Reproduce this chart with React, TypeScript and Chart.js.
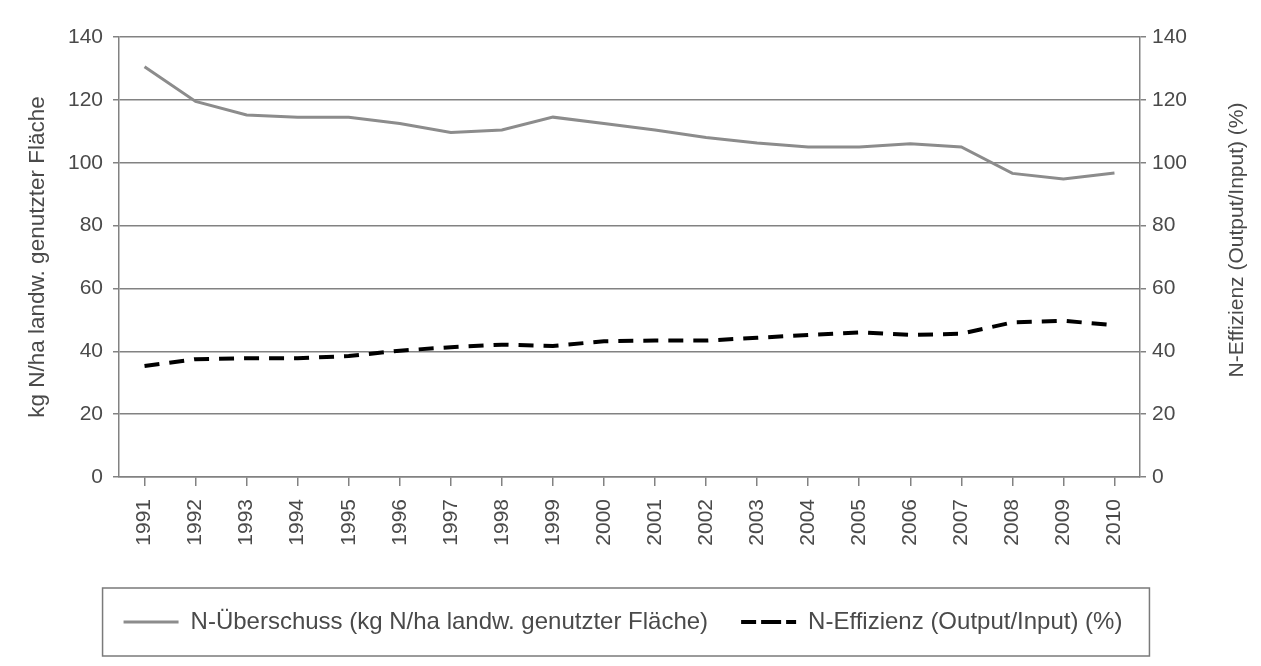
import React, { useEffect, useRef } from "react";
import { Chart, registerables } from "chart.js";

Chart.register(...registerables);

const years = ["1991","1992","1993","1994","1995","1996","1997","1998","1999","2000","2001","2002","2003","2004","2005","2006","2007","2008","2009","2010"];
const surplus = [130.5, 119.5, 115.2, 114.5, 114.5, 112.5, 109.6, 110.4, 114.5, 112.5, 110.4, 108.0, 106.3, 105.0, 105.0, 106.0, 105.0, 96.6, 94.8, 96.7];
const efficiency = [35.3, 37.5, 37.8, 37.8, 38.5, 40.2, 41.3, 42.1, 41.7, 43.2, 43.4, 43.4, 44.3, 45.2, 46.0, 45.2, 45.6, 49.2, 49.7, 48.3];
const surplusLabel = "N-Überschuss (kg N/ha landw. genutzter Fläche)";
const efficiencyLabel = "N-Effizienz (Output/Input) (%)";
const leftTitle = "kg N/ha landw. genutzter Fläche";
const rightTitle = "N-Effizienz (Output/Input) (%)";

const FONT = "'Liberation Sans', Arial, sans-serif";
const TEXT = "#4a4a4a";
const GRID = "#828282";

const decorPlugin = {
  id: "decor",
  afterDraw(chart: any) {
    const ctx = chart.ctx;
    const area = chart.chartArea;
    // right axis title (reads bottom-to-top)
    ctx.save();
    ctx.fillStyle = TEXT;
    ctx.font = `21px ${FONT}`;
    ctx.textAlign = "center";
    ctx.textBaseline = "middle";
    ctx.translate(1229, (area.top + area.bottom) / 2 - 17);
    ctx.rotate(-Math.PI / 2);
    ctx.fillText(rightTitle, 0, 0);
    ctx.restore();
    // legend frame
    const lg = chart.legend;
    if (lg && lg.legendHitBoxes && lg.legendHitBoxes.length) {
      const hb = lg.legendHitBoxes;
      const first = hb[0];
      const last = hb[hb.length - 1];
      const cy = first.top + first.height / 2;
      const x0 = first.left - 21;
      const x1 = last.left + last.width + 27;
      ctx.save();
      ctx.strokeStyle = "#7a7a7a";
      ctx.lineWidth = 1.5;
      ctx.strokeRect(x0, cy - 34, x1 - x0, 68);
      ctx.restore();
    }
  },
};

export default function App() {
  const ref = useRef<HTMLCanvasElement>(null);
  useEffect(() => {
    if (!ref.current) return;
    const chart = new Chart(ref.current, {
      type: "line",
      data: {
        labels: years,
        datasets: [
          {
            label: surplusLabel,
            data: surplus,
            yAxisID: "y",
            borderColor: "#8c8c8c",
            backgroundColor: "#8c8c8c",
            borderWidth: 3,
            pointRadius: 0,
            tension: 0,
            fill: false,
          },
          {
            label: efficiencyLabel,
            data: efficiency,
            yAxisID: "y1",
            borderColor: "#000000",
            backgroundColor: "#000000",
            borderWidth: 4,
            borderDash: [15, 10],
            pointRadius: 0,
            tension: 0,
            fill: false,
          },
        ],
      },
      plugins: [decorPlugin],
      options: {
        animation: false,
        responsive: true,
        maintainAspectRatio: false,
        layout: { padding: { top: 29, left: 0, right: 23, bottom: 14 } },
        plugins: {
          tooltip: { enabled: false },
          legend: {
            position: "bottom",
            labels: {
              boxWidth: 55,
              boxHeight: 0,
              padding: 33,
              color: TEXT,
              font: { family: FONT, size: 24 },
            },
          },
        },
        scales: {
          x: {
            type: "category",
            offset: true,
            afterFit(scale: any) { scale.height = 100; },
            grid: { display: true, drawOnChartArea: false, drawTicks: true, tickLength: 9, color: GRID, lineWidth: 1.5 },
            border: { display: true, color: GRID, width: 1.5 },
            ticks: { color: TEXT, font: { family: FONT, size: 21 }, maxRotation: 90, minRotation: 90, padding: 13, autoSkip: false },
          },
          y: {
            position: "left",
            min: 0,
            max: 140,
            afterFit(scale: any) { scale.width = 111; },
            ticks: { stepSize: 20, color: TEXT, font: { family: FONT, size: 21 }, padding: 10 },
            grid: { color: GRID, lineWidth: 1.5, tickLength: 6, drawTicks: true },
            border: { display: true, color: GRID, width: 1.5 },
            title: { display: true, text: leftTitle, color: TEXT, font: { family: FONT, size: 22.5 }, padding: { top: 16, bottom: 0 } },
          },
          y1: {
            position: "right",
            min: 0,
            max: 140,
            afterFit(scale: any) { scale.width = 98; },
            ticks: { stepSize: 20, color: TEXT, font: { family: FONT, size: 21 }, padding: 6 },
            grid: { drawOnChartArea: false, color: GRID, lineWidth: 1.5, tickLength: 6, drawTicks: true },
            border: { display: true, color: GRID, width: 1.5 },
          },
        },
      },
    });
    return () => chart.destroy();
  }, []);
  return (
    <div style={{ margin: "-1px 0 0 -1px", borderLeft: "1px solid #d4d4d4", borderTop: "1px solid #d4d4d4", width: 1253, height: 650, position: "relative" }}>
      <canvas ref={ref} />
    </div>
  );
}
